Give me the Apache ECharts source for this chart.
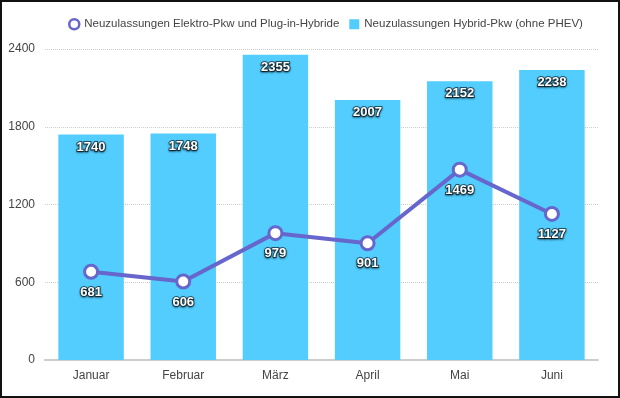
<!DOCTYPE html>
<html>
<head>
<meta charset="utf-8">
<script src="https://cdn.jsdelivr.net/npm/echarts@6/dist/echarts.min.js"></script>
<style>
  html, body { margin: 0; padding: 0; background: #fff; }
  #main { width: 620px; height: 398px; box-sizing: border-box; border: 2px solid #111; }
</style>
</head>
<body>
<div id="main"></div>
<script>
// Monatswerte
const months = ['Januar', 'Februar', 'März', 'April', 'Mai', 'Juni'];
const hybridPkw = [1740, 1748, 2355, 2007, 2152, 2238];
const elektroPhev = [681, 606, 979, 901, 1469, 1127];
const lineName = 'Neuzulassungen Elektro-Pkw und Plug-in-Hybride';
const barName = 'Neuzulassungen Hybrid-Pkw (ohne PHEV)';

const labelStyle = {
    show: true,
    color: '#fff',
    fontSize: 13,
    fontWeight: 'bold',
    fontFamily: 'Liberation Sans, Arial, sans-serif',
    textBorderColor: 'rgba(0,0,0,0.55)',
    textBorderWidth: 2,
    textShadowColor: 'rgba(0,0,0,0.6)',
    textShadowBlur: 2,
    textShadowOffsetY: 1
};

let options = {
    animation: false,
    textStyle: { fontFamily: 'Liberation Sans, Arial, sans-serif' },
    legend: {
        top: 11,
        left: 61,
        itemWidth: 10,
        itemHeight: 10,
        itemGap: 10,
        textStyle: { color: '#444', fontSize: 11.5 },
        data: [
            { name: lineName, icon: 'circle', itemStyle: { color: '#fff', borderColor: '#6666cc', borderWidth: 2.5 } },
            { name: barName, icon: 'rect' }
        ]
    },
    grid: { left: 43, right: 20, top: 47, bottom: 36 },
    xAxis: {
        type: 'category',
        data: months,
        axisLine: { lineStyle: { color: '#ccc', width: 2 } },
        axisTick: { show: false },
        axisLabel: { color: '#444', fontSize: 12, margin: 10 }
    },
    yAxis: {
        type: 'value',
        min: 0,
        max: 2400,
        interval: 600,
        axisLine: { show: false },
        axisTick: { show: false },
        axisLabel: { color: '#444', fontSize: 12, margin: 10, formatter: (v) => String(v) },
        splitLine: { lineStyle: { color: '#ccc', type: 'dotted' } }
    },
    series: [
        {
            name: barName,
            type: 'bar',
            data: hybridPkw,
            barWidth: '71%',
            itemStyle: { color: '#52cdfe' },
            label: Object.assign({}, labelStyle, { position: 'insideTop', distance: 6 }),
            z: 1
        },
        {
            name: lineName,
            type: 'line',
            data: elektroPhev,
            symbol: 'circle',
            symbolSize: 13,
            lineStyle: { color: '#6666cc', width: 4 },
            itemStyle: { color: '#fff', borderColor: '#6666cc', borderWidth: 3 },
            label: Object.assign({}, labelStyle, { position: 'bottom', distance: 6 }),
            z: 3
        }
    ]
};

let myChart = echarts.init(document.getElementById('main'));
myChart.setOption(options);
</script>
</body>
</html>
